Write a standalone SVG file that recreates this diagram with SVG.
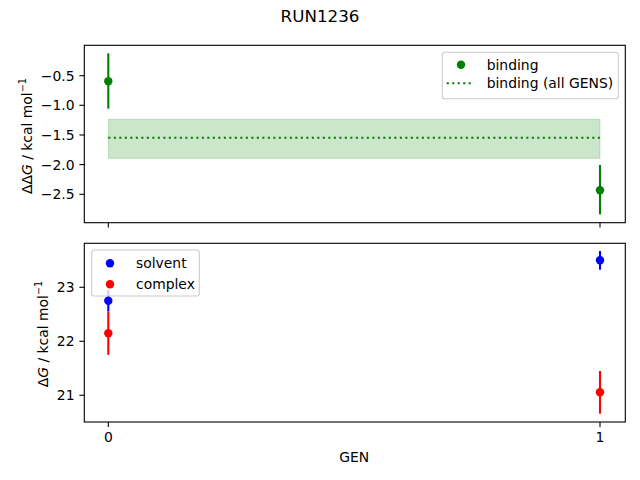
<svg xmlns="http://www.w3.org/2000/svg" width="640" height="480" viewBox="0 0 640 480">
<style>
text{font-family:"DejaVu Sans","Liberation Sans",sans-serif;fill:#000}
.tick{font-size:13.9px}
.tl{font-size:13.9px;text-anchor:end}
.tc{font-size:13.9px;text-anchor:middle}
.spine{fill:none;stroke:#000;stroke-width:1.1}
.tk{stroke:#000;stroke-width:1.1}
.eg{stroke:#008000;stroke-width:2.1}
.eb{stroke:#0000ff;stroke-width:2.1}
.er{stroke:#ff0000;stroke-width:2.1}
.leg{fill:#fff;fill-opacity:0.8;stroke:#cccccc;stroke-width:1.1}
</style>
<rect width="640" height="480" fill="#fff"/>
<text id="title" x="320" y="21.7" style="font-size:16.7px;text-anchor:middle">RUN1236</text>

<g id="top-axes">
  <rect x="108.3" y="119.3" width="491.7" height="39" fill="#008000" fill-opacity="0.2" stroke="#008000" stroke-opacity="0.2" stroke-width="1"/>
  <line x1="108.3" y1="137.7" x2="600" y2="137.7" stroke="#008000" stroke-width="2.1" stroke-dasharray="2.1 3.4"/>
  <line class="eg" x1="108.3" y1="53.3" x2="108.3" y2="108.7"/>
  <circle cx="108.3" cy="81.3" r="4.2" fill="#008000"/>
  <line class="eg" x1="600" y1="165" x2="600" y2="214.3"/>
  <circle cx="600" cy="190.3" r="4.2" fill="#008000"/>
  <rect class="spine" x="84.3" y="45.3" width="541" height="177.4"/>
  <g id="top-yticks">
    <line class="tk" x1="79.4" y1="75.7" x2="84.3" y2="75.7"/>
    <line class="tk" x1="79.4" y1="105.3" x2="84.3" y2="105.3"/>
    <line class="tk" x1="79.4" y1="135" x2="84.3" y2="135"/>
    <line class="tk" x1="79.4" y1="164.6" x2="84.3" y2="164.6"/>
    <line class="tk" x1="79.4" y1="194.3" x2="84.3" y2="194.3"/>
    <text class="tl" x="74.5" y="80.7">−0.5</text>
    <text class="tl" x="74.5" y="110.3">−1.0</text>
    <text class="tl" x="74.5" y="140">−1.5</text>
    <text class="tl" x="74.5" y="169.6">−2.0</text>
    <text class="tl" x="74.5" y="199.3">−2.5</text>
  </g>
  <line class="tk" x1="108.3" y1="222.7" x2="108.3" y2="227.6"/>
  <line class="tk" x1="600" y1="222.7" x2="600" y2="227.6"/>
  <text transform="translate(31.5,136) rotate(-90)" style="font-size:13.9px;text-anchor:middle">ΔΔ<tspan font-style="italic">G</tspan> / kcal mol<tspan dy="-5.5" style="font-size:9.7px">−1</tspan></text>
  <g id="top-legend">
    <rect class="leg" x="442.3" y="52.3" width="176" height="46.4" rx="2.8"/>
    <circle cx="461" cy="64.7" r="4.2" fill="#008000"/>
    <text class="tick" x="486.7" y="69.7">binding</text>
    <line x1="446.7" y1="83.3" x2="474" y2="83.3" stroke="#008000" stroke-width="2.1" stroke-dasharray="2.1 3.4"/>
    <text class="tick" x="486.7" y="88.3">binding (all GENS)</text>
  </g>
</g>

<g id="bottom-axes">
  <line class="eb" x1="108.3" y1="289.9" x2="108.3" y2="311.5"/>
  <line class="er" x1="108.3" y1="311.5" x2="108.3" y2="354.8"/>
  <circle cx="108.3" cy="300.7" r="4.2" fill="#0000ff"/>
  <circle cx="108.3" cy="333.3" r="4.2" fill="#ff0000"/>
  <line class="eb" x1="600" y1="251" x2="600" y2="269.7"/>
  <circle cx="600" cy="260.3" r="4.2" fill="#0000ff"/>
  <line class="er" x1="600" y1="371" x2="600" y2="413.7"/>
  <circle cx="600" cy="392.3" r="4.2" fill="#ff0000"/>
  <rect class="spine" x="84.3" y="243.3" width="541" height="178.7"/>
  <g id="bottom-yticks">
    <line class="tk" x1="79.4" y1="287.3" x2="84.3" y2="287.3"/>
    <line class="tk" x1="79.4" y1="341.3" x2="84.3" y2="341.3"/>
    <line class="tk" x1="79.4" y1="395.3" x2="84.3" y2="395.3"/>
    <text class="tl" x="74.5" y="292.3">23</text>
    <text class="tl" x="74.5" y="346.3">22</text>
    <text class="tl" x="74.5" y="400.3">21</text>
  </g>
  <g id="bottom-xticks">
    <line class="tk" x1="108.3" y1="422" x2="108.3" y2="426.9"/>
    <line class="tk" x1="600" y1="422" x2="600" y2="426.9"/>
    <text class="tc" x="108.3" y="442.3">0</text>
    <text class="tc" x="600" y="442.3">1</text>
  </g>
  <text class="tc" x="354.2" y="461.7">GEN</text>
  <text transform="translate(47.8,334) rotate(-90)" style="font-size:13.9px;text-anchor:middle">Δ<tspan font-style="italic">G</tspan> / kcal mol<tspan dy="-5.5" style="font-size:9.7px">−1</tspan></text>
  <g id="bottom-legend">
    <rect class="leg" x="91.7" y="250" width="107.6" height="46" rx="2.8"/>
    <circle cx="110" cy="263.3" r="4.2" fill="#0000ff"/>
    <text class="tick" x="136" y="268.3">solvent</text>
    <circle cx="110" cy="284.3" r="4.2" fill="#ff0000"/>
    <text class="tick" x="136" y="289.3">complex</text>
  </g>
</g>
</svg>
